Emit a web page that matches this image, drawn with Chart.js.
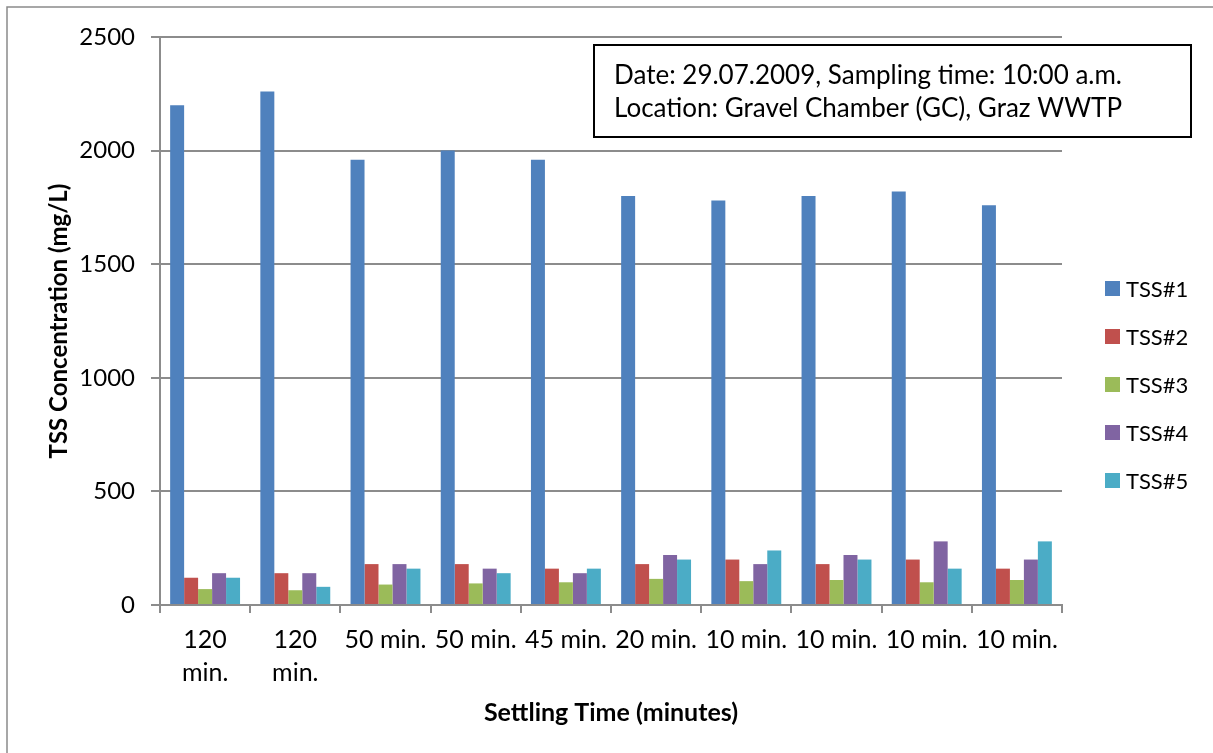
<!DOCTYPE html>
<html>
<head>
<meta charset="utf-8">
<script src="https://cdn.jsdelivr.net/npm/chart.js@4.4.1/dist/chart.umd.min.js"></script>
<style>
  html, body { margin: 0; padding: 0; background: #ffffff; }
  #wrap { width: 1213px; height: 753px; position: relative; }
  canvas { display: block; }
</style>
</head>
<body>
<div id="wrap"><canvas id="tss" width="1213" height="753"></canvas></div>
<script>
// Settling-time categories (two-line labels where the text wraps)
const categories = [["120", "min."], ["120", "min."], "50 min.", "50 min.", "45 min.",
                    "20 min.", "10 min.", "10 min.", "10 min.", "10 min."];

// TSS concentrations in mg/L for each sample fraction
const tss1 = [2200, 2260, 1960, 2000, 1960, 1800, 1780, 1800, 1820, 1760];
const tss2 = [120, 140, 180, 180, 160, 180, 200, 180, 200, 160];
const tss3 = [70, 65, 90, 95, 100, 115, 105, 110, 100, 110];
const tss4 = [140, 140, 180, 160, 140, 220, 180, 220, 280, 200];
const tss5 = [120, 80, 160, 140, 160, 200, 240, 200, 160, 280];

const seriesNames = ["TSS#1", "TSS#2", "TSS#3", "TSS#4", "TSS#5"];
const seriesColors = ["#4F81BD", "#C0504D", "#9BBB59", "#8064A2", "#4BACC6"];

const yTicks = [0, 500, 1000, 1500, 2000, 2500];

const infoLines = ["Date: 29.07.2009, Sampling time: 10:00 a.m.",
                   "Location: Gravel Chamber (GC), Graz WWTP"];

const FONT = "Lato, 'Open Sans', 'Liberation Sans', sans-serif";
const GRID = "#8c8c8c";

// White page with the thin outer frame
const backdrop = {
  id: "backdrop",
  beforeDraw(chart) {
    const ctx = chart.ctx;
    ctx.save();
    ctx.fillStyle = "#ffffff";
    ctx.fillRect(0, 0, chart.width, chart.height);
    ctx.strokeStyle = "#8a8a8a";
    ctx.lineWidth = 1.5;
    ctx.beginPath();
    ctx.moveTo(7, chart.height + 2);
    ctx.lineTo(7, 7);
    ctx.lineTo(chart.width + 2, 7);
    ctx.stroke();
    ctx.restore();
  }
};

// Legend on the right and the boxed sampling note
const overlay = {
  id: "overlay",
  afterDraw(chart) {
    const ctx = chart.ctx;
    ctx.save();
    // legend
    ctx.font = "22px " + FONT;
    ctx.textAlign = "left";
    ctx.textBaseline = "middle";
    chart.data.datasets.forEach((ds, i) => {
      const cy = 288.5 + i * 48;
      ctx.fillStyle = ds.backgroundColor;
      ctx.fillRect(1105, cy - 7.5, 15, 15);
      ctx.fillStyle = "#000000";
      ctx.fillText(ds.label, 1126, cy + 1);
    });
    // note box
    ctx.fillStyle = "#ffffff";
    ctx.fillRect(594, 45, 597, 92);
    ctx.strokeStyle = "#000000";
    ctx.lineWidth = 2;
    ctx.strokeRect(594, 45, 597, 92);
    ctx.fillStyle = "#000000";
    ctx.font = "26px " + FONT;
    ctx.textBaseline = "alphabetic";
    infoLines.forEach((t, i) => ctx.fillText(t, 614, 84 + i * 33));
    ctx.restore();
  }
};

function build() {
  const series = [tss1, tss2, tss3, tss4, tss5];
  new Chart(document.getElementById("tss"), {
    type: "bar",
    data: {
      labels: categories,
      datasets: series.map((vals, i) => ({
        label: seriesNames[i],
        data: vals,
        backgroundColor: seriesColors[i],
        borderWidth: 0,
        categoryPercentage: 0.775,
        barPercentage: 1.0
      }))
    },
    options: {
      responsive: false,
      animation: false,
      devicePixelRatio: 1,
      layout: { padding: { left: 0, right: 151, top: 37, bottom: 0 } },
      plugins: {
        legend: { display: false },
        tooltip: { enabled: false }
      },
      scales: {
        x: {
          offset: true,
          grid: {
            display: true,
            drawOnChartArea: false,
            drawTicks: true,
            tickLength: 8,
            color: GRID,
            lineWidth: 2
          },
          border: { display: true, color: GRID, width: 2 },
          ticks: {
            color: "#000000",
            font: { family: FONT, size: 25, lineHeight: 1.32 },
            padding: 10,
            maxRotation: 0,
            minRotation: 0,
            autoSkip: false
          },
          title: {
            display: true,
            text: "Settling Time (minutes)",
            color: "#000000",
            font: { family: FONT, size: 25, weight: "bold", lineHeight: 1.2 },
            padding: { top: 0, bottom: 25 }
          },
          afterFit(scale) { scale.height = 148; }
        },
        y: {
          min: 0,
          max: 2500,
          afterBuildTicks(scale) { scale.ticks = yTicks.map(v => ({ value: v })); },
          grid: {
            color: GRID,
            lineWidth: 2,
            drawTicks: true,
            tickLength: 9
          },
          border: { display: true, color: GRID, width: 2 },
          ticks: {
            color: "#000000",
            font: { family: FONT, size: 24 },
            padding: 16,
            callback: (v) => String(v)
          },
          title: {
            display: true,
            text: "TSS Concentration (mg/L)",
            color: "#000000",
            font: { family: FONT, size: 24, weight: "bold", lineHeight: 1.2 },
            padding: { top: 45, bottom: 0 }
          },
          afterFit(scale) { scale.width = 160; }
        }
      }
    },
    plugins: [backdrop, overlay]
  });
}

const fontLoads = [
  document.fonts.load("24px Lato"),
  document.fonts.load("bold 24px Lato")
];
Promise.all(fontLoads).then(build, build);
</script>
</body>
</html>
